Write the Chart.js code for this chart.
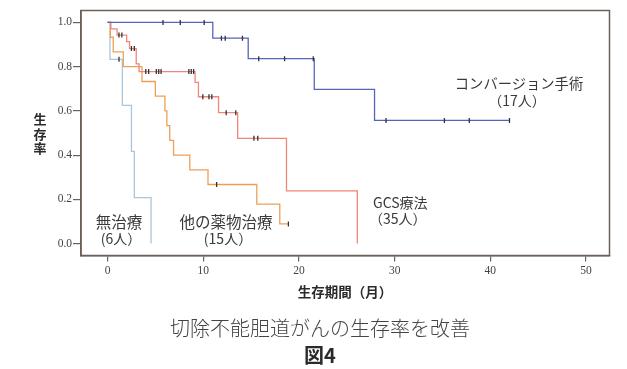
<!DOCTYPE html>
<html>
<head>
<meta charset="utf-8">
<script src="https://cdn.jsdelivr.net/npm/chart.js@4.4.1/dist/chart.umd.min.js"></script>
<style>
  html, body { margin: 0; padding: 0; background: #fff; }
  #wrap { position: relative; width: 627px; height: 369px; overflow: hidden; }
  #c { position: absolute; left: 0; top: 0; }
  .t { position: absolute; transform: translate(-50%, -50%); white-space: nowrap;
       font-family: "Noto Sans CJK JP", "Noto Sans", sans-serif; color: #3a3a3a; line-height: 1; }
  .l { transform: translate(0, -50%); }
  .b { font-weight: bold; color: #2a2a2a; }
  .v { line-height: 14.5px; text-align: center; }
</style>
</head>
<body>
<div id="wrap">
  <canvas id="c" width="627" height="369"></canvas>
  <div class="t b v" style="left:40px; top:134px; font-size:13px;">生<br>存<br>率</div>
  <div class="t b" style="left:345px; top:292px; font-size:13.5px;">生存期間（月）</div>
  <div class="t" style="left:519px; top:83px; font-size:14.3px;">コンバージョン手術</div>
  <div class="t" style="left:517px; top:100px; font-size:14px;">（17人）</div>
  <div class="t l" style="left:373px; top:202px; font-size:14px;">GCS療法</div>
  <div class="t l" style="left:369px; top:218px; font-size:14px;">（35人）</div>
  <div class="t" style="left:119px; top:222px; font-size:15.5px;">無治療</div>
  <div class="t" style="left:121px; top:238px; font-size:14px;">(6人）</div>
  <div class="t" style="left:226px; top:222px; font-size:15.5px;">他の薬物治療</div>
  <div class="t" style="left:228px; top:238px; font-size:14px;">(15人）</div>
  <div class="t" style="left:320px; top:328px; font-size:20px; color:#444; font-weight:300;">切除不能胆道がんの生存率を改善</div>
  <div class="t b" style="left:320px; top:355px; font-size:20px;">図4</div>
</div>
<script>
// 無治療 (6人)
const monthsNone = [0, 0.26, 1.55, 2.5, 2.8, 4.55];
const survNone = [1, 0.833, 0.625, 0.417, 0.208, 0];
const censNone = [1.2];

// 他の薬物治療 (15人)
const monthsDrug = [0, 0.3, 0.6, 1.65, 3.6, 5.0, 6.0, 6.2, 6.5, 6.9, 8.6, 10.5, 15.6, 18.0];
const survDrug = [1, 0.933, 0.867, 0.8, 0.733, 0.667, 0.6, 0.533, 0.467, 0.4, 0.333, 0.267, 0.178, 0.089];
const censDrug = [11.4, 18.9];

// GCS療法 (35人)
const monthsGcs = [0, 0.35, 1.0, 2.0, 2.3, 3.0, 3.3, 9.15, 9.5, 11.6, 13.6, 18.7, 26.1];
const survGcs = [1, 0.971, 0.943, 0.913, 0.882, 0.813, 0.778, 0.729, 0.664, 0.592, 0.476, 0.238, 0];
const censGcs = [1.2, 1.5, 2.5, 2.8, 4.0, 4.3, 5.1, 5.35, 5.6, 8.5, 8.75, 9.0, 9.96, 10.6, 10.9, 12.4, 13.4, 15.3, 15.7];

// コンバージョン手術 (17人)
const monthsConv = [0, 11.0, 14.7, 21.6, 27.9];
const survConv = [1, 0.929, 0.836, 0.697, 0.557];
const censConv = [5.8, 7.6, 10.1, 11.9, 12.3, 14.1, 15.8, 18.5, 21.5, 29.1, 35.2, 37.8, 42.0];

const xTicks = [0, 10, 20, 30, 40, 50];
const yTicks = [0, 0.2, 0.4, 0.6, 0.8, 1.0];

function stepData(months, surv, cens) {
    let pts = months.map((m, i) => ({x: m, y: surv[i]}));
    let last = cens[cens.length - 1];
    if (last > months[months.length - 1]) pts.push({x: last, y: surv[surv.length - 1]});
    return pts;
}

function survAt(months, surv, t) {
    let v = surv[0];
    for (let i = 0; i < months.length; i++) {
        if (months[i] <= t) v = surv[i];
    }
    return v;
}

function censData(months, surv, cens) {
    return cens.map(t => ({x: t, y: survAt(months, surv, t)}));
}

function curve(months, surv, cens, color) {
    return {
        type: 'line',
        data: stepData(months, surv, cens),
        borderColor: color,
        borderWidth: 1.3,
        stepped: true,
        pointRadius: 0,
        fill: false,
        order: 2
    };
}

function marks(months, surv, cens) {
    return {
        type: 'line',
        data: censData(months, surv, cens),
        showLine: false,
        pointStyle: 'line',
        rotation: 90,
        pointRadius: 2.5,
        borderColor: '#333',
        pointBorderWidth: 1.3,
        order: 1
    };
}

const boxPlugin = {
    id: 'box',
    beforeDatasetsDraw(chart) {
        const a = chart.chartArea;
        const ctx = chart.ctx;
        ctx.save();
        ctx.strokeStyle = '#6b605a';
        ctx.lineWidth = 1.5;
        ctx.strokeRect(a.left, a.top, a.right - a.left, a.bottom - a.top);
        ctx.restore();
    }
};

const axisColor = '#6b605a';

new Chart(document.getElementById('c'), {
    type: 'line',
    data: {
        datasets: [
            curve(monthsConv, survConv, censConv, '#5563c0'),
            curve(monthsGcs, survGcs, censGcs, '#f0867c'),
            curve(monthsDrug, survDrug, censDrug, '#eba058'),
            curve(monthsNone, survNone, censNone, '#a9c6df'),
            marks(monthsConv, survConv, censConv),
            marks(monthsGcs, survGcs, censGcs),
            marks(monthsDrug, survDrug, censDrug),
            marks(monthsNone, survNone, censNone)
        ]
    },
    options: {
        responsive: false,
        animation: false,
        layout: { padding: { top: 10.5, right: 17.5, left: 0, bottom: 0 } },
        plugins: { legend: { display: false }, tooltip: { enabled: false } },
        scales: {
            x: {
                type: 'linear',
                min: -2.77,
                max: 52.45,
                afterBuildTicks: s => { s.ticks = xTicks.map(v => ({value: v})); },
                afterFit: s => { s.height = 369 - 255.5; },
                grid: { drawOnChartArea: false, drawTicks: true, tickLength: 6, color: axisColor, lineWidth: 1.2 },
                border: { display: true, color: axisColor, width: 1.5 },
                ticks: { color: '#444', padding: 3, font: { family: 'Liberation Serif', size: 11.5 } }
            },
            y: {
                type: 'linear',
                min: -0.054,
                max: 1.054,
                afterBuildTicks: s => { s.ticks = yTicks.map(v => ({value: v})); },
                afterFit: s => { s.width = 81; },
                grid: { drawOnChartArea: false, drawTicks: true, tickLength: 8, color: axisColor, lineWidth: 1.2 },
                border: { display: true, color: axisColor, width: 1.5 },
                ticks: { color: '#444', padding: 1, font: { family: 'Liberation Serif', size: 11.5 },
                         callback: v => v.toFixed(1) }
            }
        }
    },
    plugins: [boxPlugin]
});
</script>
</body>
</html>
